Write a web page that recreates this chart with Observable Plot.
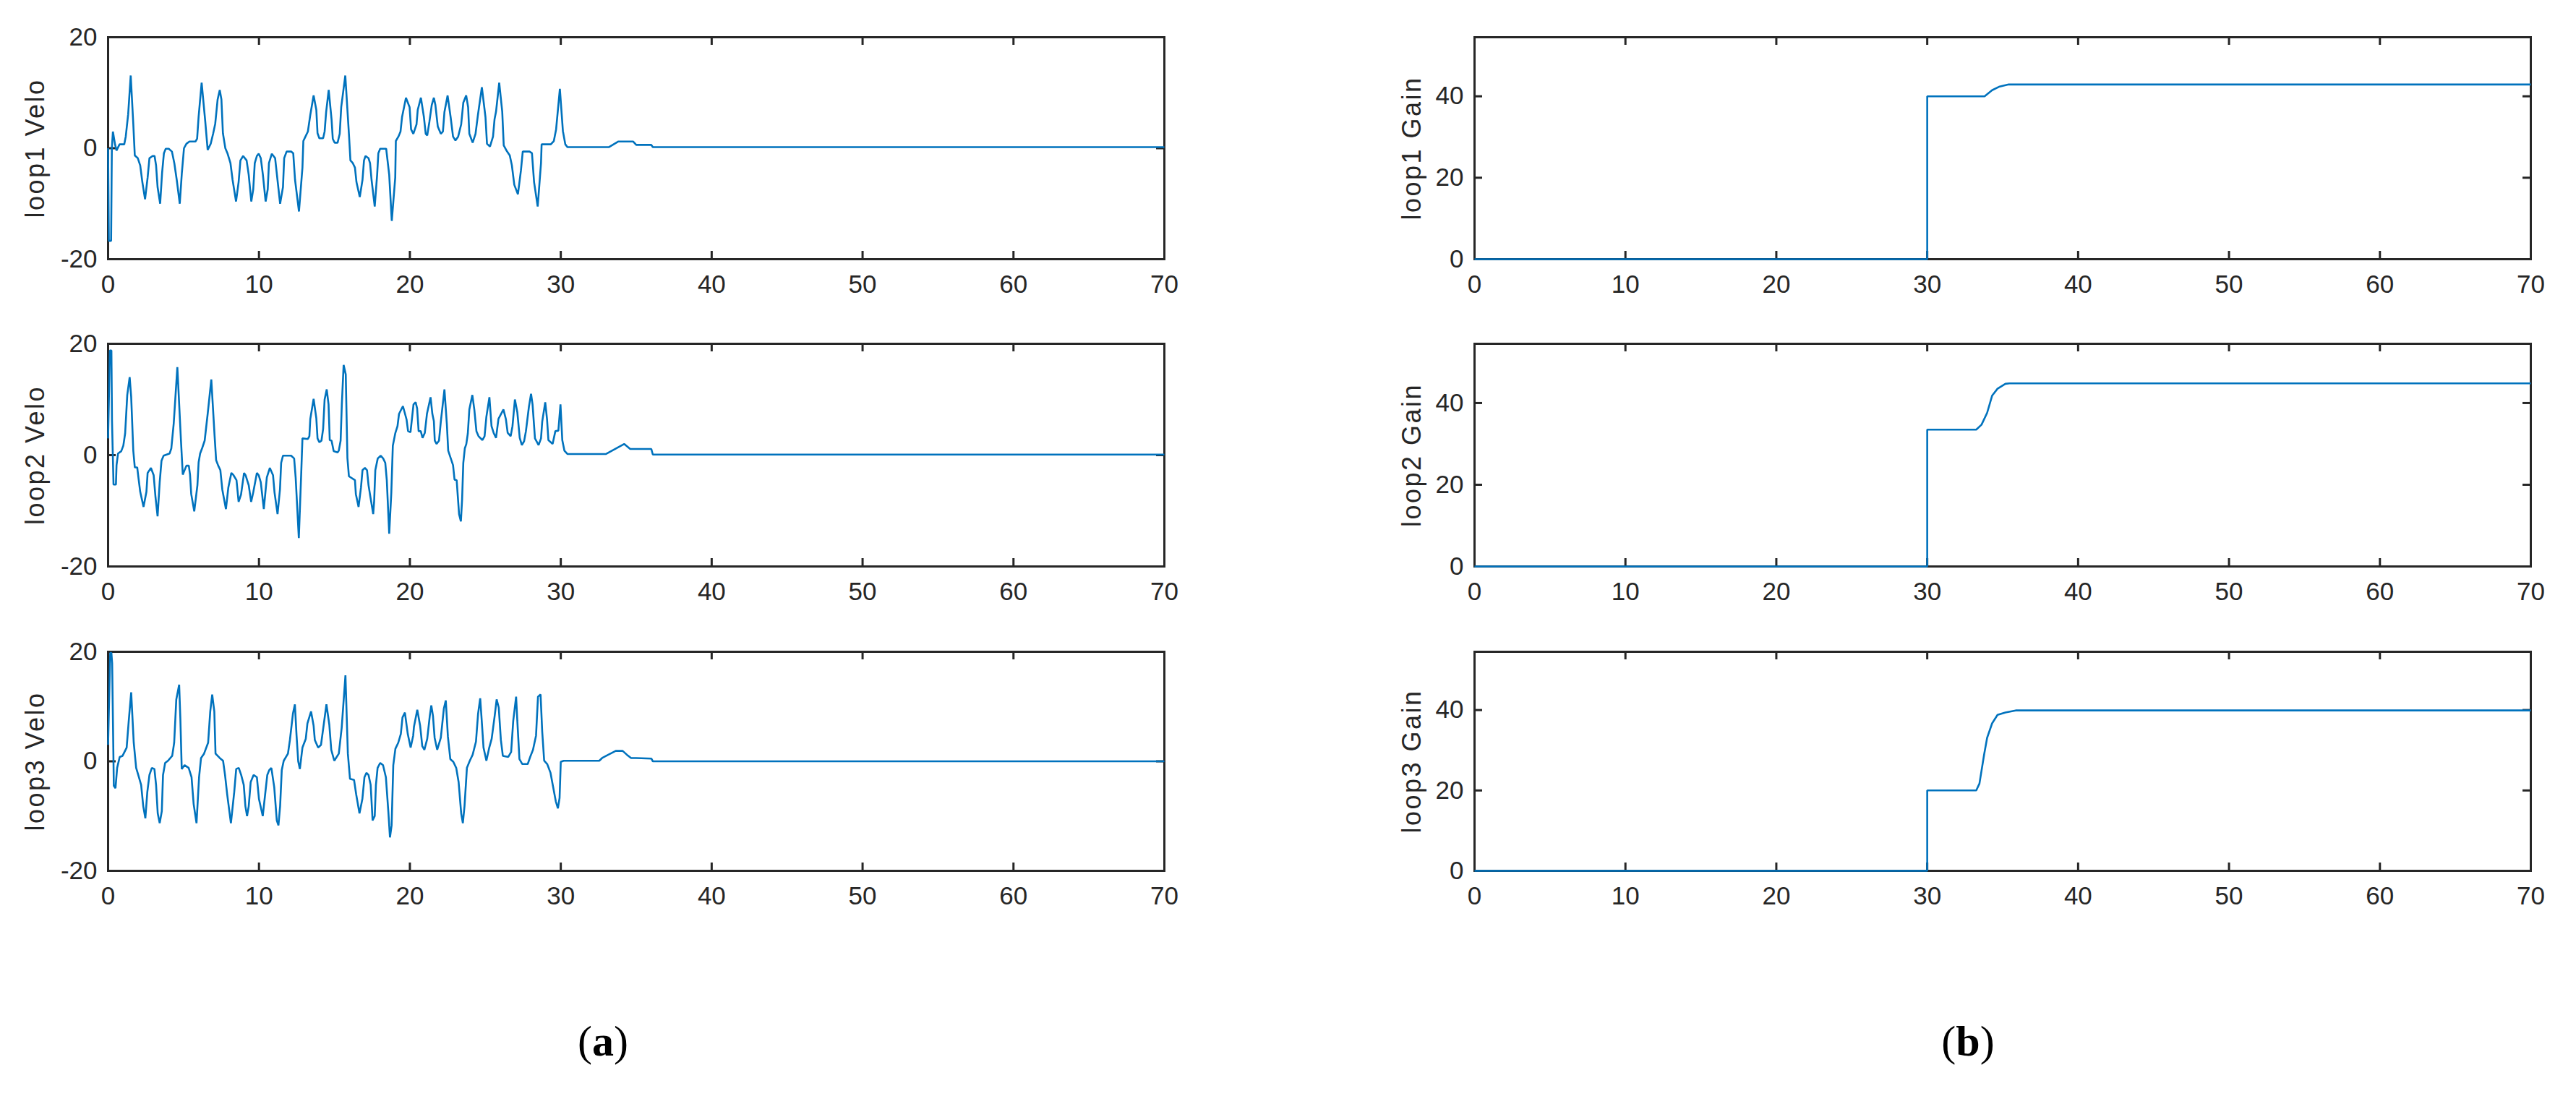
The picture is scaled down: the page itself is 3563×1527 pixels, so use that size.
<!DOCTYPE html>
<html>
<head>
<meta charset="utf-8">
<script src="https://cdn.jsdelivr.net/npm/d3@7"></script>
<script src="https://cdn.jsdelivr.net/npm/@observablehq/plot@0.6"></script>
<style>
  html, body { margin: 0; padding: 0; background: #ffffff; }
  #page { position: relative; width: 3563px; height: 1527px; background: #ffffff; overflow: hidden; }
  .panel { position: absolute; }
  .cap { position: absolute; width: 400px; text-align: center; font-family: "Liberation Serif", "DejaVu Serif", serif; font-size: 60px; color: #000; line-height: 1; }
</style>
</head>
<body>
<div id="page"></div>
<script>
// ---------------- DATA ----------------
const xTicks = [0, 10, 20, 30, 40, 50, 60, 70];
const veloTicks = [-20, 0, 20];
const gainTicks = [0, 20, 40];
const veloLabels = ["loop1 Velo", "loop2 Velo", "loop3 Velo"];
const gainLabels = ["loop1 Gain", "loop2 Gain", "loop3 Gain"];
const captions = ["a", "b"];

// loop1 velocity
const velo1T = [0,0.05,0.2,0.25,0.32,0.46,0.56,0.76,1.07,1.17,1.33,1.5,1.67,1.77,1.97,2.13,2.27,2.45,2.62,2.74,2.95,3.08,3.18,3.28,3.45,3.58,3.7,3.82,4.02,4.23,4.39,4.55,4.75,4.89,5.03,5.19,5.39,5.79,5.9,6.0,6.2,6.44,6.6,6.8,6.96,7.1,7.26,7.4,7.51,7.61,7.77,7.91,8.11,8.25,8.48,8.65,8.77,8.95,9.18,9.32,9.49,9.62,9.72,9.86,9.98,10.12,10.26,10.44,10.58,10.66,10.85,11.07,11.19,11.4,11.59,11.67,11.83,12.13,12.27,12.39,12.65,12.88,12.94,13.08,13.24,13.4,13.62,13.8,13.88,14.0,14.25,14.35,14.45,14.62,14.81,14.89,15.01,15.21,15.35,15.45,15.72,15.96,16.06,16.22,16.36,16.46,16.68,16.86,16.96,17.06,17.26,17.36,17.46,17.67,17.83,17.91,18.03,18.43,18.63,18.8,19.03,19.07,19.24,19.38,19.48,19.74,19.98,20.08,20.23,20.44,20.52,20.73,20.93,21.05,21.15,21.29,21.45,21.59,21.69,21.85,22.05,22.19,22.29,22.5,22.7,22.86,23.02,23.2,23.4,23.54,23.73,23.86,23.94,24.16,24.35,24.51,24.77,25.01,25.11,25.31,25.51,25.61,25.71,25.92,26.12,26.22,26.42,26.62,26.76,26.92,27.16,27.36,27.48,27.93,28.09,28.23,28.47,28.69,28.73,29.34,29.54,29.69,29.94,30.14,30.3,30.44,33.2,33.8,34.8,35.0,36.0,36.1,70];
const velo1V = [0,-16.7,-16.7,0,3,0.7,-0.4,0.7,0.7,2.1,6.1,13.1,4.4,-1.3,-1.8,-3.1,-6.1,-9.2,-5.3,-1.8,-1.4,-1.4,-3.1,-7,-10,-4.4,-0.9,-0.1,-0.1,-0.6,-2.7,-5.7,-10,-4.4,0,0.8,1.2,1.2,1.7,5.7,11.8,4.8,-0.3,0.8,2.6,4.4,8.8,10.5,8.8,2.7,0,-0.9,-2.7,-5.7,-9.6,-6.1,-2.2,-1.4,-2.2,-4.8,-9.6,-7.4,-2.7,-1.4,-1.0,-1.8,-4.8,-9.6,-7.4,-2.7,-1.0,-1.8,-4.8,-10,-7,-1.8,-0.6,-0.6,-0.9,-5.7,-11.4,-3.5,1.3,2.1,3,6,9.5,6.9,2.7,1.8,1.8,3,6.5,10.5,5.2,1.7,1,1,2.6,7.4,13.1,2.6,-2.2,-2.7,-3.5,-6.1,-8.8,-5.7,-2.2,-1.4,-1.8,-2.7,-5.7,-10.5,-4.8,-0.9,-0.1,-0.1,-4.8,-13.1,-5.3,1.3,2.1,3,5.6,9.1,7.4,3.4,2.6,4.3,6.9,9.1,5.6,2.6,2.3,4.7,7.8,9.1,7.8,3.9,2.6,3,6.5,9.5,5.6,2.1,1.4,2.1,4.3,8.2,9.5,7.4,2.6,1.0,2.6,6,11,5.6,0.8,0.3,2.1,5.2,6.6,11.8,6.6,0.5,-0.5,-1.3,-3.1,-6.6,-8.3,-4,-0.6,-0.6,-0.9,-6.1,-10.5,-2.7,0.7,0.7,1.3,3.4,10.7,3.1,0.7,0.2,0.2,1.2,1.2,0.6,0.6,0.2,0.2];

// loop2 velocity
const velo2T = [0,0.12,0.22,0.26,0.36,0.52,0.56,0.66,0.87,1.01,1.13,1.27,1.43,1.53,1.67,1.77,1.93,2.01,2.13,2.35,2.54,2.62,2.84,3.02,3.14,3.28,3.42,3.54,3.68,4.08,4.19,4.35,4.59,4.83,4.95,5.19,5.35,5.43,5.51,5.71,5.92,6.0,6.1,6.24,6.4,6.6,6.84,7.06,7.16,7.3,7.44,7.57,7.81,7.97,8.17,8.31,8.51,8.65,8.81,9.01,9.11,9.32,9.48,9.62,9.86,9.98,10.12,10.32,10.52,10.72,10.93,11.03,11.23,11.39,11.47,11.59,12.13,12.33,12.43,12.64,12.8,12.88,13.24,13.34,13.4,13.62,13.8,13.88,14.0,14.14,14.25,14.35,14.49,14.61,14.69,14.81,14.95,15.21,15.29,15.41,15.49,15.61,15.75,15.86,15.96,16.36,16.42,16.6,16.76,16.86,17.02,17.16,17.26,17.36,17.57,17.63,17.71,17.87,18.07,18.23,18.37,18.47,18.63,18.77,18.87,19.03,19.18,19.28,19.54,19.78,19.88,20.04,20.12,20.24,20.38,20.48,20.58,20.72,20.84,20.99,21.13,21.37,21.49,21.59,21.65,21.77,21.93,22.05,22.29,22.45,22.54,22.7,22.86,22.96,23.1,23.26,23.38,23.46,23.54,23.64,23.74,23.84,23.94,24.14,24.27,24.41,24.55,24.81,24.95,25.07,25.27,25.41,25.55,25.71,25.87,26.2,26.36,26.48,26.68,26.8,26.96,27.12,27.28,27.42,27.57,27.69,27.89,28.03,28.13,28.29,28.53,28.69,28.77,28.97,29.09,29.18,29.46,29.64,29.84,29.98,30.1,30.24,30.44,33.0,34.2,34.6,36.0,36.1,70];
const velo2V = [3.0,18.8,18.8,6.1,-5.3,-5.3,-1.8,0.3,0.7,1.7,3.9,10.8,14.0,10.5,0.8,-2.2,-2.2,-4.0,-6.6,-9.3,-6.6,-3.2,-2.3,-3.6,-7.5,-11.0,-4.9,-1.0,-0.1,0.3,1.2,5.7,15.8,2.6,-3.5,-1.9,-1.9,-3.5,-7.0,-10.1,-5.4,-1.3,0.3,1.3,2.6,7.4,13.6,3.4,-0.9,-1.9,-2.7,-6.2,-9.7,-5.8,-3.2,-3.6,-4.5,-8.4,-7.1,-3.2,-3.6,-5.4,-8.4,-6.7,-3.2,-3.6,-4.9,-9.7,-4.0,-2.3,-3.6,-6.7,-10.6,-6.2,-1.4,-0.1,-0.1,-0.6,-4.0,-14.9,-3.2,3.0,2.9,3.4,6.5,10.1,6.6,3.0,2.3,2.6,4.7,10.0,11.8,9.1,2.7,2.6,0.7,0.5,0.8,2.6,9.1,16.2,14.5,-0.5,-3.8,-4.5,-7.0,-9.3,-5.8,-2.7,-2.3,-2.7,-5.4,-7.1,-10.6,-8.4,-2.7,-0.6,-0.1,-0.6,-1.4,-4.5,-14.1,-6.7,1.7,3.9,5.2,7.4,8.8,6.4,4.3,4.1,6.1,9.1,9.5,8.4,4.3,4.3,3.1,4.0,7.4,10.4,7.4,6.1,2.6,2.0,2.6,6.0,11.8,5.6,0.8,-0.5,-1.8,-4.4,-4.5,-10.6,-11.9,-8.0,-1.4,1.2,2.0,3.9,8.2,10.8,8.2,4.3,3.4,2.7,3.4,6.9,10.4,5.2,4.0,3.1,6.5,8.2,6.5,4.0,3.4,5.2,10.0,7.7,3.1,1.8,2.5,4.3,8.7,11.0,9.1,3.0,1.8,3.0,6.0,9.5,6.4,2.7,2.0,4.3,4.4,9.1,2.7,0.8,0.2,0.2,2.0,1.1,1.1,0.1,0.1];

// loop3 velocity
const velo3T = [0,0.14,0.22,0.27,0.38,0.49,0.6,0.77,0.96,1.23,1.37,1.53,1.7,1.86,2.0,2.19,2.33,2.47,2.6,2.74,2.9,3.07,3.18,3.29,3.42,3.56,3.64,3.78,3.97,4.25,4.38,4.52,4.71,4.79,4.88,5.07,5.34,5.53,5.67,5.86,6.03,6.16,6.36,6.63,6.77,6.9,7.04,7.12,7.4,7.62,7.75,7.89,8.14,8.36,8.49,8.66,8.82,8.99,9.1,9.21,9.32,9.45,9.64,9.86,10.0,10.25,10.41,10.55,10.68,10.82,11.01,11.18,11.29,11.4,11.51,11.64,11.92,12.05,12.25,12.38,12.49,12.6,12.71,12.88,13.1,13.21,13.45,13.62,13.7,13.92,14.11,14.3,14.47,14.66,14.79,14.99,15.29,15.48,15.73,15.89,16.03,16.3,16.44,16.66,16.85,16.99,17.12,17.26,17.4,17.53,17.67,17.75,17.86,18.03,18.22,18.41,18.58,18.68,18.79,18.9,19.04,19.23,19.4,19.51,19.67,19.86,20.05,20.22,20.27,20.49,20.68,20.82,20.96,21.15,21.32,21.42,21.53,21.64,21.81,22.05,22.25,22.38,22.52,22.68,22.88,23.07,23.23,23.4,23.51,23.62,23.78,23.97,24.16,24.38,24.52,24.66,24.74,24.88,25.07,25.26,25.42,25.62,25.75,25.89,26.03,26.16,26.52,26.71,26.85,27.04,27.12,27.26,27.45,27.81,28.0,28.16,28.36,28.49,28.66,28.77,28.9,29.1,29.32,29.48,29.67,29.81,29.92,30.0,30.19,32.55,32.74,33.15,33.64,34.1,34.38,34.66,35.0,36.0,36.1,70];
const velo3V = [3.0,19.8,19.8,17.9,-4.5,-4.9,-1.2,0.8,1.0,2.5,7.4,12.6,3.4,-1.2,-2.5,-4.3,-8.2,-10.4,-5.6,-2.5,-1.2,-1.4,-4.3,-9.5,-11.3,-9.1,-2.5,-0.3,0.1,1.0,3.4,11.3,14.0,7.8,-1.4,-0.7,-1.2,-2.9,-7.8,-11.3,-2.9,0.6,1.4,3.4,9.1,12.2,9.1,1.4,0.6,0.1,-2.5,-6.0,-11.3,-5.6,-1.4,-1.2,-2.5,-4.3,-8.2,-10.0,-8.2,-3.8,-2.5,-2.9,-6.9,-10.0,-6.0,-2.5,-1.6,-1.2,-4.7,-10.8,-11.7,-8.2,-1.6,0.1,1.4,3.9,8.7,10.4,4.7,0,-1.4,2.5,4.1,6.9,9.1,6.5,3.9,2.5,3.0,6.9,10.4,6.7,2.1,0.1,1.4,6.1,15.7,1.4,-3.2,-3.4,-6.0,-9.5,-6.9,-2.9,-2.1,-2.5,-4.3,-10.8,-10.0,-4.3,-1.2,-0.3,-0.7,-2.9,-9.5,-13.9,-11.7,-0.7,2.3,3.4,5.0,8.0,8.9,5.0,2.5,4.7,6.3,9.4,6.5,2.8,2.1,4.1,8.3,10.2,8.3,4.3,2.1,4.3,9.6,11.1,4.5,0.4,-0.1,-1.2,-3.8,-9.5,-11.3,-8.2,-1.2,0.1,1.2,3.6,8.7,11.5,8.3,2.5,0.1,2.5,4.1,8.3,11.3,9.8,3.9,1.0,0.8,1.7,7.4,11.8,7.4,0.4,-0.5,-0.5,1.0,2.1,4.7,11.8,12.2,5.4,0.1,-0.5,-2.1,-4.5,-7.3,-8.6,-6.7,-0.1,0.1,0.1,0.6,1.2,1.9,1.9,1.2,0.6,0.6,0.5,0.0,0.0];

// gains
const gain1T = [0, 30, 30, 33.8, 34.3, 34.8, 35.4, 70];
const gain1V = [0, 0, 40, 40, 41.5, 42.4, 42.9, 42.9];
const gain2T = [0, 30, 30, 33.25, 33.6, 33.97, 34.3, 34.66, 35.18, 35.45, 70];
const gain2V = [0, 0, 33.5, 33.5, 34.7, 37.6, 41.8, 43.5, 44.7, 44.8, 44.8];
const gain3T = [0, 30, 30, 33.25, 33.46, 33.77, 33.97, 34.3, 34.66, 35.18, 35.86, 70];
const gain3V = [0, 0, 20, 20, 21.7, 28.9, 33.1, 36.7, 38.8, 39.4, 39.9, 39.9];

// ---------------- LAYOUT ----------------
const AXIS = "#262626";
const LINE = "#0072BD";
const FONT = "'Liberation Sans', Arial, Helvetica, sans-serif";
const rowTop = [0, 425, 850];
const rowMarginTop = [51, 50, 51];
const rowFrameH = [307, 308, 303];
const SVG_H = 425;
const fmt = d => String(d);

function series(T, V) { return T.map((t, i) => ({t, v: V[i]})); }

function makePanel({data, yDomain, yTicks, label, left, width, mLeft, mRight, labelDx, row}) {
  const mTop = rowMarginTop[row];
  const fh = rowFrameH[row];
  const mBottom = SVG_H - mTop - fh;
  const fw = width - mLeft - mRight;
  const [y0, y1] = yDomain;
  const lenY = 11 / fh * (y1 - y0);
  const lenX = 11 / fw * 70;
  const plot = Plot.plot({
    width, height: SVG_H,
    marginLeft: mLeft, marginRight: mRight, marginTop: mTop, marginBottom: mBottom,
    x: {domain: [0, 70]},
    y: {domain: yDomain},
    style: {fontFamily: FONT, fontSize: "35px", color: AXIS, background: "transparent", overflow: "visible"},
    marks: [
      Plot.axisX({ticks: xTicks, tickFormat: fmt, tickSize: 0, tickPadding: 22, fontSize: 35, fill: AXIS, label: null}),
      Plot.axisY({ticks: yTicks, tickFormat: fmt, tickSize: 0, tickPadding: 15, fontSize: 35, fill: AXIS, label: null}),
      Plot.ruleX(xTicks, {x: d => d, y1: y0, y2: y0 + lenY, stroke: AXIS, strokeWidth: 3}),
      Plot.ruleX(xTicks, {x: d => d, y1: y1, y2: y1 - lenY, stroke: AXIS, strokeWidth: 3}),
      Plot.ruleY(yTicks, {y: d => d, x1: 0, x2: lenX, stroke: AXIS, strokeWidth: 3}),
      Plot.ruleY(yTicks, {y: d => d, x1: 70, x2: 70 - lenX, stroke: AXIS, strokeWidth: 3}),
      Plot.frame({stroke: AXIS, strokeWidth: 3}),
      Plot.line(data, {x: "t", y: "v", stroke: LINE, strokeWidth: 2.6, strokeLinejoin: "miter", strokeLinecap: "butt"}),
      Plot.text([label], {text: d => d, frameAnchor: "left", dx: labelDx, rotate: -90, fontSize: 36, fill: AXIS, textAnchor: "middle", lineAnchor: "middle"})
    ]
  });
  plot.querySelectorAll('g[aria-label="text"] text').forEach(t => { t.style.letterSpacing = "2.5px"; });
  const div = document.createElement("div");
  div.className = "panel";
  div.style.left = left + "px";
  div.style.top = rowTop[row] + "px";
  div.appendChild(plot);
  document.getElementById("page").appendChild(div);
}

const veloT = [velo1T, velo2T, velo3T];
const veloV = [velo1V, velo2V, velo3V];
const gainT = [gain1T, gain2T, gain3T];
const gainV = [gain1V, gain2V, gain3V];

for (let r = 0; r < 3; r++) {
  makePanel({data: series(veloT[r], veloV[r]), yDomain: [-20, 20], yTicks: veloTicks, label: veloLabels[r],
    left: 0, width: 1700, mLeft: 149, mRight: 90, labelDx: -100, row: r});
  makePanel({data: series(gainT[r], gainV[r]), yDomain: [0, 54.5], yTicks: gainTicks, label: gainLabels[r],
    left: 1870, width: 1693, mLeft: 169, mRight: 63, labelDx: -86, row: r});
}

// captions
const capCenters = [834, 2722];
captions.forEach((c, i) => {
  const d = document.createElement("div");
  d.className = "cap";
  d.style.left = (capCenters[i] - 200) + "px";
  d.style.top = "1410px";
  d.innerHTML = "(<b>" + c + "</b>)";
  document.getElementById("page").appendChild(d);
});
</script>
</body>
</html>
